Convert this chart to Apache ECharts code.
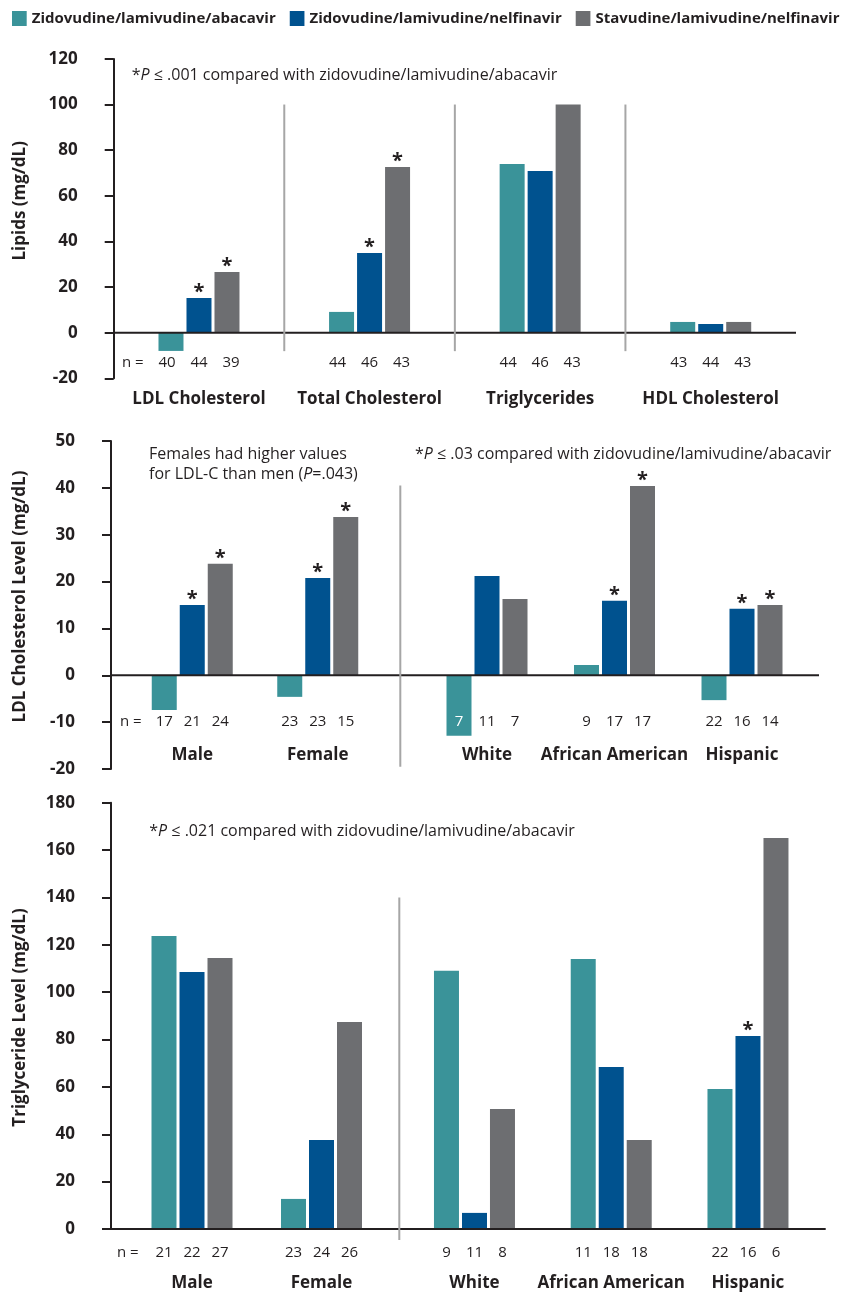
<!DOCTYPE html>
<html><head><meta charset="utf-8">
<script src="https://cdn.jsdelivr.net/npm/echarts@6.0.0/dist/echarts.min.js"></script>
<style>html,body{margin:0;padding:0;background:#fff}#c{width:847px;height:1295px}</style>
</head><body><div id="c"></div>
<script>
// ---------- DATA ----------
const seriesNames = ['Zidovudine/lamivudine/abacavir', 'Zidovudine/lamivudine/nelfinavir', 'Stavudine/lamivudine/nelfinavir'];

// Panel 1: lipids
const lipidCategories = ['LDL Cholesterol', 'Total Cholesterol', 'Triglycerides', 'HDL Cholesterol'];
const lipidZLA = [-8.0, 9.1, 73.9, 4.7];
const lipidZLN = [15.2, 34.9, 70.9, 3.8];
const lipidSLN = [26.6, 72.6, 100, 4.7];
const lipidSigZLN = [true, true, false, false];
const lipidSigSLN = [true, true, false, false];
const lipidN = [[40, 44, 39], [44, 46, 43], [44, 46, 43], [43, 44, 43]];
const lipidTicks = [-20, 0, 20, 40, 60, 80, 100, 120];

// Panel 2: LDL cholesterol by subgroup
const groupCategories = ['Male', 'Female', 'White', 'African American', 'Hispanic'];
const ldlZLA = [-7.4, -4.6, -12.9, 2.2, -5.3];
const ldlZLN = [15.0, 20.8, 21.2, 15.9, 14.2];
const ldlSLN = [23.8, 33.8, 16.3, 40.4, 15.0];
const ldlSigZLN = [true, true, false, true, true];
const ldlSigSLN = [true, true, false, true, true];
const ldlN = [[17, 21, 24], [23, 23, 15], [7, 11, 7], [9, 17, 17], [22, 16, 14]];
const ldlTicks = [-20, -10, 0, 10, 20, 30, 40, 50];

// Panel 3: triglycerides by subgroup
const tgZLA = [123.7, 12.7, 109.0, 114.0, 59.1];
const tgZLN = [108.5, 37.6, 6.8, 68.4, 81.5];
const tgSLN = [114.4, 87.4, 50.7, 37.6, 165.1];
const tgSigZLN = [false, false, false, false, true];
const tgSigSLN = [false, false, false, false, false];
const tgN = [[21, 22, 27], [23, 24, 26], [9, 11, 8], [11, 18, 18], [22, 16, 6]];
const tgTicks = [0, 20, 40, 60, 80, 100, 120, 140, 160, 180];

// ---------- STYLE / LAYOUT ----------
const FONT = '"Open Sans", "Noto Sans", sans-serif';
const INK = '#231f20';
const COLORS = ['#3a9399', '#00528f', '#6d6e71'];

const option = {
  animation: false,
  backgroundColor: '#fff',
  legend: {
    data: seriesNames, left: 12, top: 11, padding: 0, icon: 'rect',
    itemWidth: 14.7, itemHeight: 15, itemGap: 14, selectedMode: false,
    textStyle: { fontFamily: FONT, fontSize: 15, fontWeight: 'bold', color: INK }
  },
  title: [], grid: [], xAxis: [], yAxis: [], series: [], graphic: []
};

function addPanel(p) {
  const ticks = p.ticks;
  const ymin = ticks[0], ymax = ticks[ticks.length - 1], step = ticks[1] - ticks[0];
  const fg = option.grid.length;
  option.grid.push(Object.assign({ outerBoundsMode: 'none', containLabel: false }, p.frame));
  const fx = option.xAxis.length;
  option.xAxis.push({ type: 'value', gridIndex: fg, min: 0, max: 1, show: false });
  const fy = option.yAxis.length;
  option.yAxis.push({
    type: 'value', gridIndex: fg, position: 'left', min: ymin, max: ymax, interval: step,
    axisLine: { show: true, onZero: false, lineStyle: { color: INK, width: 2 } },
    axisTick: { show: true, length: 9, lineStyle: { color: INK, width: 2 } },
    splitLine: { show: false },
    axisLabel: { margin: 36, fontFamily: FONT, fontSize: 17, fontWeight: 'bold', color: INK }
  });
  option.series.push({
    type: 'custom', xAxisIndex: fx, yAxisIndex: fy, data: [[0, 0]], silent: true, z: 5,
    renderItem: function (params, api) {
      const a = api.coord([0, p.zeroAt]), b = api.coord([1, p.zeroAt]);
      const children = [{ type: 'line', shape: { x1: a[0], y1: a[1], x2: b[0], y2: b[1] }, style: { stroke: INK, lineWidth: 2 } }];
      const ya = api.coord([0, p.dividerRange[0]])[1], yb = api.coord([0, p.dividerRange[1]])[1];
      p.dividers.forEach(function (x) {
        children.push({ type: 'line', shape: { x1: x, y1: ya, x2: x, y2: yb }, style: { stroke: '#a6a6a6', lineWidth: 2 } });
      });
      return { type: 'group', children: children };
    }
  });
  p.groups.forEach(function (g) {
    const gi = option.grid.length;
    option.grid.push({ left: g.left, width: g.width, top: p.frame.top, height: p.frame.height, outerBoundsMode: 'none', containLabel: false });
    const cats = p.cats.slice(g.from, g.to);
    const xi = option.xAxis.length;
    option.xAxis.push({
      type: 'category', gridIndex: gi, data: cats, position: 'bottom', offset: p.nameOffset,
      axisLine: { show: false, onZero: false }, axisTick: { show: false },
      axisLabel: { interval: 0, margin: p.nameMargin, fontFamily: FONT, fontSize: 17, fontWeight: 'bold', color: INK, lineHeight: 17 }
    });
    option.xAxis.push({
      type: 'category', gridIndex: gi, data: cats, position: 'bottom', offset: p.nOffset, z: 10,
      axisLine: { show: false, onZero: false }, axisTick: { show: false },
      axisLabel: {
        interval: 0, margin: p.nMargin,
        formatter: function (v, i) {
          const k = g.from + i;
          return p.n[k].map(function (n, s) {
            const cover = p.values[s][k] < p.nLevel - 1;
            return '{' + (cover ? 'w' : 'n') + '|' + n + '}';
          }).join('');
        },
        rich: {
          n: { width: p.nWidth, align: 'center', fontFamily: FONT, fontSize: 15, color: INK, lineHeight: 15 },
          w: { width: p.nWidth, align: 'center', fontFamily: FONT, fontSize: 15, color: '#ffffff', lineHeight: 15 }
        }
      }
    });
    const yi = option.yAxis.length;
    option.yAxis.push({ type: 'value', gridIndex: gi, min: ymin, max: ymax, interval: step, show: false });
    p.values.forEach(function (vals, s) {
      const sig = p.sig[s];
      option.series.push({
        type: 'bar', name: seriesNames[s], xAxisIndex: xi, yAxisIndex: yi,
        data: vals.slice(g.from, g.to), barWidth: 25, barGap: '12%', z: 2,
        itemStyle: { color: COLORS[s] },
        label: {
          show: true, position: 'top', distance: -4,
          formatter: function (prm) { return sig && sig[g.from + prm.dataIndex] ? '*' : ''; },
          fontFamily: FONT, fontSize: 20, fontWeight: 'bold', color: INK, lineHeight: 20
        }
      });
    });
  });
  option.graphic.push({ type: 'text', x: p.nLabelX, y: p.nLabelY, silent: true,
    style: { text: 'n =', fontFamily: FONT, fontSize: 15, fill: INK, align: 'left', verticalAlign: 'middle' } });
  option.graphic.push({ type: 'text', x: 20, y: p.titleY, rotation: Math.PI / 2, silent: true,
    style: { text: p.title, fontFamily: FONT, fontSize: 17, fontWeight: 'bold', fill: INK, align: 'center', verticalAlign: 'middle' } });
}

const topFrame = { left: 113.7, top: 58.9, width: 682.3, height: 319.4 };
addPanel({
  frame: topFrame, ticks: lipidTicks, zeroAt: 0,
  groups: [{ left: topFrame.left, width: topFrame.width, from: 0, to: 4 }],
  cats: lipidCategories, values: [lipidZLA, lipidZLN, lipidSLN], sig: [null, lipidSigZLN, lipidSigSLN], n: lipidN,
  dividers: [1, 2, 3].map(function (k) { return topFrame.left + k * topFrame.width / 4; }), dividerRange: [100, -8.1],
  nameOffset: 0, nameMargin: 12, nOffset: -30, nMargin: 7.2, nWidth: 32, nLevel: -13.3,
  nLabelX: 122, nLabelY: 363, title: 'Lipids (mg/dL)', titleY: 200.8
});

addPanel({
  frame: { left: 111, top: 441.1, width: 708, height: 327.9 }, ticks: ldlTicks, zeroAt: 0,
  groups: [{ left: 129.5, width: 251, from: 0, to: 2 }, { left: 423.25, width: 382.5, from: 2, to: 5 }],
  cats: groupCategories, values: [ldlZLA, ldlZLN, ldlSLN], sig: [null, ldlSigZLN, ldlSigSLN], n: ldlN,
  dividers: [400.3], dividerRange: [40.5, -19.5],
  nameOffset: -30, nameMargin: 8, nOffset: -60, nMargin: 5.2, nWidth: 28, nLevel: -9.9,
  nLabelX: 120, nLabelY: 721.7, title: 'LDL Cholesterol Level (mg/dL)', titleY: 596.5
});

addPanel({
  frame: { left: 111, top: 802.7, width: 714.7, height: 426.3 }, ticks: tgTicks, zeroAt: 0,
  groups: [{ left: 127.25, width: 259, from: 0, to: 2 }, { left: 406.1, width: 410.25, from: 2, to: 5 }],
  cats: groupCategories, values: [tgZLA, tgZLN, tgSLN], sig: [null, tgSigZLN, tgSigSLN], n: tgN,
  dividers: [399.3], dividerRange: [140, -4.6],
  nameOffset: 0, nameMargin: 45.7, nOffset: 0, nMargin: 16.2, nWidth: 28, nLevel: -100,
  nLabelX: 117, nLabelY: 1252.7, title: 'Triglyceride Level (mg/dL)', titleY: 1017.5
});

// footnotes
const noteRich = {
  a: { fontFamily: FONT, fontSize: 16, fontWeight: 'normal', color: INK, lineHeight: 20 },
  i: { fontFamily: FONT, fontSize: 16, fontWeight: 'normal', fontStyle: 'italic', color: INK, lineHeight: 20 }
};
function note(left, top, text) {
  option.title.push({ left: left, top: top, padding: 0, text: text, textStyle: { rich: noteRich, fontWeight: 'normal' } });
}
note(131.7, 65, '{a|*}{i|P}{a| ≤ .001 compared with zidovudine/lamivudine/abacavir}');
note(149, 444, '{a|Females had higher values}\n{a|for LDL-C than men (}{i|P}{a|=.043)}');
note(415, 444, '{a|*}{i|P}{a| ≤ .03 compared with zidovudine/lamivudine/abacavir}');
note(149.3, 821, '{a|*}{i|P}{a| ≤ .021 compared with zidovudine/lamivudine/abacavir}');

const chart = echarts.init(document.getElementById('c'), null, { renderer: 'canvas' });
chart.setOption(option);
</script>
</body></html>
